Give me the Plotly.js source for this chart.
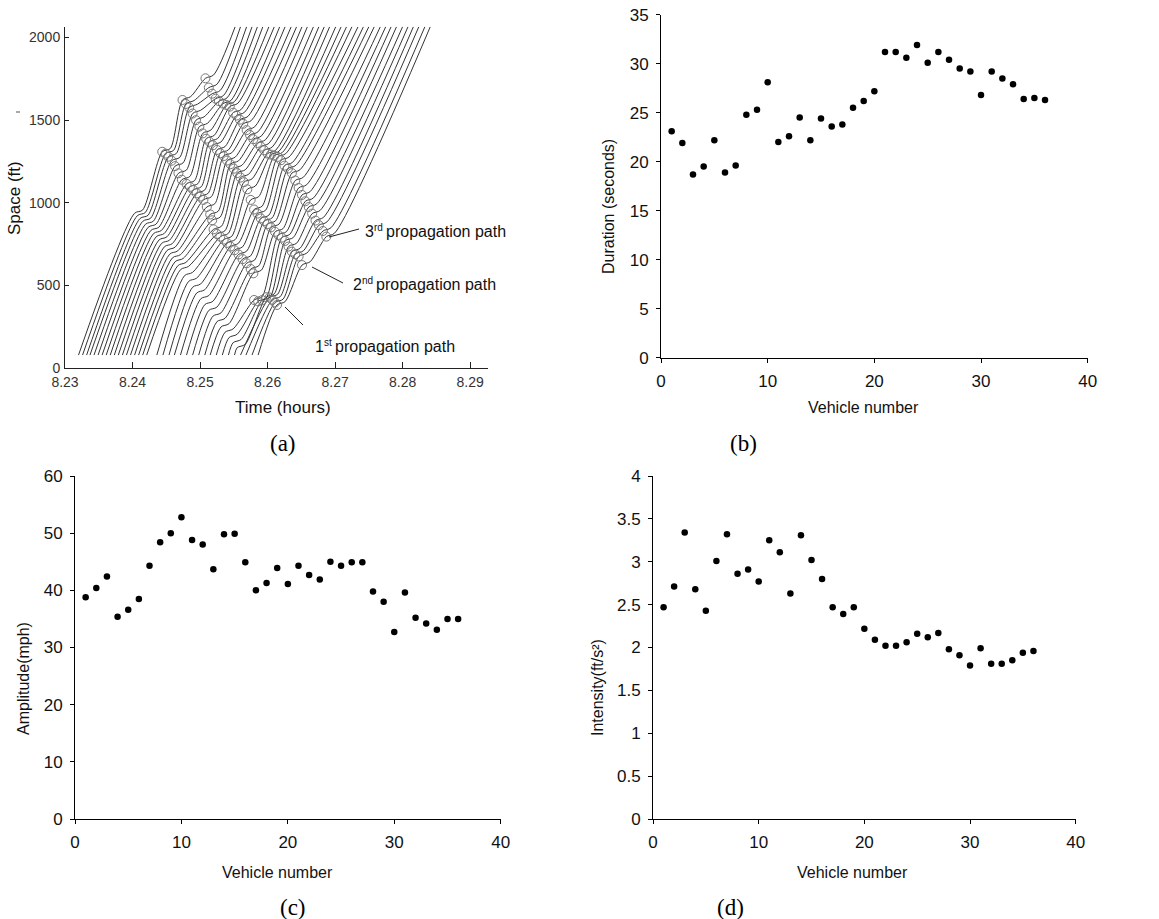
<!DOCTYPE html>
<html>
<head>
<meta charset="utf-8">
<script src="https://cdn.plot.ly/plotly-3.0.1.min.js"></script>
<style>
  html, body { margin: 0; padding: 0; background: #fff; }
  #chart { width: 1159px; height: 919px; }
</style>
</head>
<body>
<div id="chart"></div>
<script>
// ---------- (a) vehicle trajectories in the time-space plane ----------
const entryFt = 80;      // first detection position of every vehicle
const exitFt = 2065;     // last position shown
const entryHour = [
  8.2320, 8.2326, 8.2332, 8.2337, 8.2343, 8.2349, 8.2355, 8.2361, 8.2367,
  8.2373, 8.2379, 8.2385, 8.2391, 8.2397, 8.2403, 8.2409, 8.2415, 8.2421,
  8.2436, 8.2445, 8.2454, 8.2462, 8.2471, 8.2480, 8.2489, 8.2498, 8.2507,
  8.2515, 8.2524, 8.2533, 8.2542, 8.2551, 8.2560, 8.2568, 8.2577, 8.2586
];
const exitHour = [
  8.2552, 8.2560, 8.2569, 8.2577, 8.2585, 8.2593, 8.2602, 8.2610, 8.2618,
  8.2626, 8.2635, 8.2643, 8.2651, 8.2659, 8.2668, 8.2676, 8.2684, 8.2692,
  8.2701, 8.2709, 8.2717, 8.2725, 8.2734, 8.2742, 8.2750, 8.2758, 8.2767,
  8.2775, 8.2783, 8.2791, 8.2800, 8.2808, 8.2816, 8.2824, 8.2833, 8.2841
];
// early disturbance (not marked), where each vehicle starts to slow down
const wave0Hour = [
  8.2403, 8.2407, 8.2411, 8.2415, 8.2419, 8.2423, 8.2427, 8.2431, 8.2435,
  8.2439, 8.2443, 8.2447, 8.2451, 8.2455, 8.2459, 8.2463, 8.2467, 8.2471,
  8.2477, 8.2483, 8.2489, 8.2495, 8.2501, 8.2507, 8.2513, 8.2519, 8.2525,
  8.2531, 8.2537, 8.2543, 8.2549, 8.2555, null, null, null, null
];
const wave0Ft = [
  937, 922, 905, 888, 870, 852, 833, 814, 795,
  775, 755, 734, 712, 690, 667, 644, 620, 596,
  560, 525, 490, 455, 420, 385, 350, 315, 282,
  250, 218, 186, 155, 125, null, null, null, null
];
// 1st propagation path: deceleration onset of each vehicle
const path1Hour = [
  8.2444, 8.2449, 8.2453, 8.2458, 8.2463, 8.2468, 8.2473, 8.2480, 8.2485,
  8.2490, 8.2495, 8.2500, 8.2505, 8.2510, 8.2515, 8.2518, 8.2520, 8.2525,
  8.2530, 8.2535, 8.2540, 8.2545, 8.2551, 8.2557, 8.2563, 8.2569, 8.2575,
  8.2579, 8.2580, 8.2586, 8.2592, 8.2598, 8.2603, 8.2607, 8.2611, 8.2614
];
const path1Ft = [
  1309, 1298, 1279, 1255, 1222, 1179, 1140, 1115, 1097,
  1078, 1058, 1038, 1018, 975, 930, 895, 840, 812,
  796, 778, 758, 736, 714, 688, 660, 635, 600,
  574, 413, 405, 412, 430, 428, 414, 398, 383
];
// 2nd propagation path
const path2Hour = [
  8.2474, 8.2479, 8.2484, 8.2489, 8.2494, 8.2499, 8.2504, 8.2509, 8.2514,
  8.2519, 8.2525, 8.2530, 8.2535, 8.2540, 8.2545, 8.2550, 8.2555, 8.2560,
  8.2565, 8.2570, 8.2575, 8.2580, 8.2585, 8.2590, 8.2595, 8.2600, 8.2605,
  8.2611, 8.2616, 8.2621, 8.2626, 8.2631, 8.2636, 8.2641, 8.2646, 8.2651
];
const path2Ft = [
  1622, 1598, 1576, 1540, 1500, 1461, 1420, 1388, 1369,
  1348, 1320, 1300, 1283, 1256, 1234, 1207, 1180, 1153,
  1125, 1082, 1018, 960, 935, 906, 890, 872, 852,
  825, 806, 790, 770, 736, 705, 690, 676, 624
];
// 3rd propagation path
const path3Hour = [
  8.2508, 8.2513, 8.2518, 8.2523, 8.2528, 8.2534, 8.2539, 8.2544, 8.2549,
  8.2554, 8.2559, 8.2564, 8.2569, 8.2574, 8.2579, 8.2585, 8.2590, 8.2595,
  8.2600, 8.2605, 8.2610, 8.2615, 8.2620, 8.2625, 8.2630, 8.2636, 8.2641,
  8.2646, 8.2651, 8.2656, 8.2661, 8.2666, 8.2671, 8.2676, 8.2682, 8.2687
];
const path3Ft = [
  1753, 1697, 1660, 1630, 1615, 1600, 1592, 1582, 1545,
  1528, 1503, 1478, 1440, 1410, 1385, 1362, 1340, 1318,
  1298, 1292, 1285, 1278, 1258, 1225, 1207, 1180, 1135,
  1090, 1048, 1010, 975, 935, 893, 865, 830, 796
];

// ---------- (b)-(d) oscillation characteristics per vehicle ----------
const vehicleNumber = [
  1, 2, 3, 4, 5, 6, 7, 8, 9, 10, 11, 12, 13, 14, 15, 16, 17, 18,
  19, 20, 21, 22, 23, 24, 25, 26, 27, 28, 29, 30, 31, 32, 33, 34, 35, 36
];
const durationSec = [
  23.1, 21.9, 18.7, 19.5, 22.2, 18.9, 19.6, 24.8, 25.3, 28.1, 22.0, 22.6,
  24.5, 22.2, 24.4, 23.6, 23.8, 25.5, 26.2, 27.2, 31.2, 31.2, 30.6, 31.9,
  30.1, 31.2, 30.4, 29.5, 29.2, 26.8, 29.2, 28.5, 27.9, 26.4, 26.5, 26.3
];
const amplitudeMph = [
  38.8, 40.4, 42.4, 35.4, 36.6, 38.5, 44.3, 48.4, 50.0, 52.8, 48.8, 48.0,
  43.7, 49.8, 49.9, 44.9, 40.0, 41.3, 43.9, 41.1, 44.3, 42.7, 41.9, 45.0,
  44.3, 44.9, 44.9, 39.8, 38.0, 32.7, 39.6, 35.2, 34.2, 33.1, 35.0, 35.0
];
const intensityFtS2 = [
  2.47, 2.71, 3.34, 2.68, 2.43, 3.01, 3.32, 2.86, 2.91, 2.77, 3.25, 3.11,
  2.63, 3.31, 3.02, 2.80, 2.47, 2.39, 2.47, 2.22, 2.09, 2.02, 2.02, 2.06,
  2.16, 2.12, 2.17, 1.98, 1.91, 1.79, 1.99, 1.81, 1.81, 1.85, 1.94, 1.96
];

// ---------- page geometry (pixels -> paper fractions) ----------
const W = 1159, H = 919;
const px = x => x / W;
const py = y => 1 - y / H;

// how long a vehicle stays in the slow phase after each deceleration onset
const dwellHour = 0.0012, dwellFt = 20;

function trajectory(i) {
  const t = [entryHour[i]], s = [entryFt];
  const onsets = [
    [wave0Hour[i], wave0Ft[i]],
    [path1Hour[i], path1Ft[i]],
    [path2Hour[i], path2Ft[i]],
    [path3Hour[i], path3Ft[i]]
  ];
  onsets.forEach(([h, f]) => {
    if (h === null) return;
    t.push(h, h + dwellHour);
    s.push(f, f + dwellFt);
  });
  t.push(exitHour[i]);
  s.push(exitFt);
  return { t, s };
}

const traces = [];
for (let i = 0; i < entryHour.length; i++) {
  const tr = trajectory(i);
  traces.push({
    x: tr.t, y: tr.s, xaxis: 'x', yaxis: 'y', type: 'scatter', mode: 'lines',
    line: { color: '#333', width: 1, shape: 'spline', smoothing: 0.8 },
    hoverinfo: 'skip'
  });
}
const circleStyle = { symbol: 'circle-open', size: 9, color: '#777', line: { width: 1, color: '#777' } };
[[path1Hour, path1Ft], [path2Hour, path2Ft], [path3Hour, path3Ft]].forEach(([h, f]) => {
  traces.push({ x: h, y: f, xaxis: 'x', yaxis: 'y', type: 'scatter', mode: 'markers', marker: circleStyle, cliponaxis: false });
});

const dot = { color: '#000', size: 6.5, symbol: 'circle' };
traces.push({ x: vehicleNumber, y: durationSec, xaxis: 'x2', yaxis: 'y2', type: 'scatter', mode: 'markers', marker: dot });
traces.push({ x: vehicleNumber, y: amplitudeMph, xaxis: 'x3', yaxis: 'y3', type: 'scatter', mode: 'markers', marker: dot });
traces.push({ x: vehicleNumber, y: intensityFtS2, xaxis: 'x4', yaxis: 'y4', type: 'scatter', mode: 'markers', marker: dot });

const sans = 'Liberation Sans, Arial, Helvetica, sans-serif';
const serif = 'Liberation Serif, Times New Roman, serif';

const scatterAxis = {
  showline: true, linecolor: '#000', linewidth: 1,
  ticks: 'outside', ticklen: 4, tickwidth: 1, tickcolor: '#000',
  showgrid: false, zeroline: false, ticklabelstandoff: 4,
  tickfont: { family: sans, size: 17, color: '#111' }
};
const trajAxis = {
  showline: true, linecolor: '#222', linewidth: 1,
  ticks: 'inside', tickwidth: 1, tickcolor: '#222',
  showgrid: false, zeroline: false,
  tickfont: { family: sans, size: 14, color: '#333' }
};

const layout = {
  width: W, height: H,
  margin: { l: 0, r: 0, t: 0, b: 0 },
  paper_bgcolor: '#fff', plot_bgcolor: 'rgba(0,0,0,0)',
  showlegend: false,
  xaxis: Object.assign({}, trajAxis, {
    domain: [px(65), px(487.7)], anchor: 'y', range: [8.23, 8.2926],
    tick0: 8.23, dtick: 0.01, tickformat: '.2f', ticklen: 6, ticklabelstandoff: 1
  }),
  yaxis: Object.assign({}, trajAxis, {
    domain: [py(368.3), py(26.7)], anchor: 'x', range: [0, 2065],
    tick0: 0, dtick: 500, ticklen: 4, ticklabelstandoff: 1
  }),
  xaxis2: Object.assign({}, scatterAxis, { domain: [px(661), px(1087.7)], anchor: 'y2', range: [0, 40], dtick: 10 }),
  yaxis2: Object.assign({}, scatterAxis, { domain: [py(357.7), py(14.7)], anchor: 'x2', range: [0, 35], dtick: 5 }),
  xaxis3: Object.assign({}, scatterAxis, { domain: [px(75), px(500.7)], anchor: 'y3', range: [0, 40], dtick: 10 }),
  yaxis3: Object.assign({}, scatterAxis, { domain: [py(819), py(476)], anchor: 'x3', range: [0, 60], dtick: 10 }),
  xaxis4: Object.assign({}, scatterAxis, { domain: [px(653), px(1075.7)], anchor: 'y4', range: [0, 40], dtick: 10 }),
  yaxis4: Object.assign({}, scatterAxis, { domain: [py(819), py(476)], anchor: 'x4', range: [0, 4], dtick: 0.5 }),
  annotations: [],
  shapes: []
};

function label(text, x, y, opts) {
  layout.annotations.push(Object.assign({
    text, x: px(x), y: py(y), xref: 'paper', yref: 'paper',
    xanchor: 'center', yanchor: 'middle', showarrow: false,
    font: { family: sans, size: 16, color: '#111' }
  }, opts || {}));
}

// axis titles, placed where each figure panel puts them
const bigTitle = { family: sans, size: 17, color: '#111' };
label('Space (ft)', 14, 198, { textangle: -90, font: bigTitle });
label('Time (hours)', 283, 407, { font: bigTitle });
label('Duration (seconds)', 608, 207, { textangle: -90 });
label('Vehicle number', 863, 408);
label('Amplitude(mph)', 23, 679, { textangle: -90 });
label('Vehicle number', 277, 872);
label('Intensity(ft/s²)', 597, 688, { textangle: -90 });
label('Vehicle number', 852, 872);

// panel tags
const tagFont = { family: serif, size: 23, color: '#000' };
label('(a)', 283, 443, { font: tagFont });
label('(b)', 743, 443, { font: tagFont });
label('(c)', 293, 907, { font: tagFont });
label('(d)', 730, 907, { font: tagFont });

// propagation path call-outs: ordinal number, raised suffix, then the words
const suffixFont = { family: sans, size: 10, color: '#111' };
function callout(num, suffix, x, y, suffixWidth) {
  label(num, x, y, { xanchor: 'left' });
  label(suffix, x + 9, y - 5, { xanchor: 'left', font: suffixFont });
  label('propagation path', x + 9 + suffixWidth + 3, y, { xanchor: 'left' });
}
callout('3', 'rd', 363, 232, 9);
callout('2', 'nd', 351, 285, 11);
callout('1', 'st', 313, 347, 8);

function segment(x0, y0, x1, y1, color) {
  layout.shapes.push({
    type: 'line', xref: 'paper', yref: 'paper',
    x0: px(x0), y0: py(y0), x1: px(x1), y1: py(y1),
    line: { color: color || '#222', width: 1 }
  });
}
segment(329, 237, 359, 229);
segment(312, 267, 343, 283);
segment(285, 307, 303, 325);
// small tick mark left of the space axis title
segment(16, 112, 20, 112, '#555');

Plotly.newPlot('chart', traces, layout, { staticPlot: true, displayModeBar: false });
</script>
</body>
</html>
